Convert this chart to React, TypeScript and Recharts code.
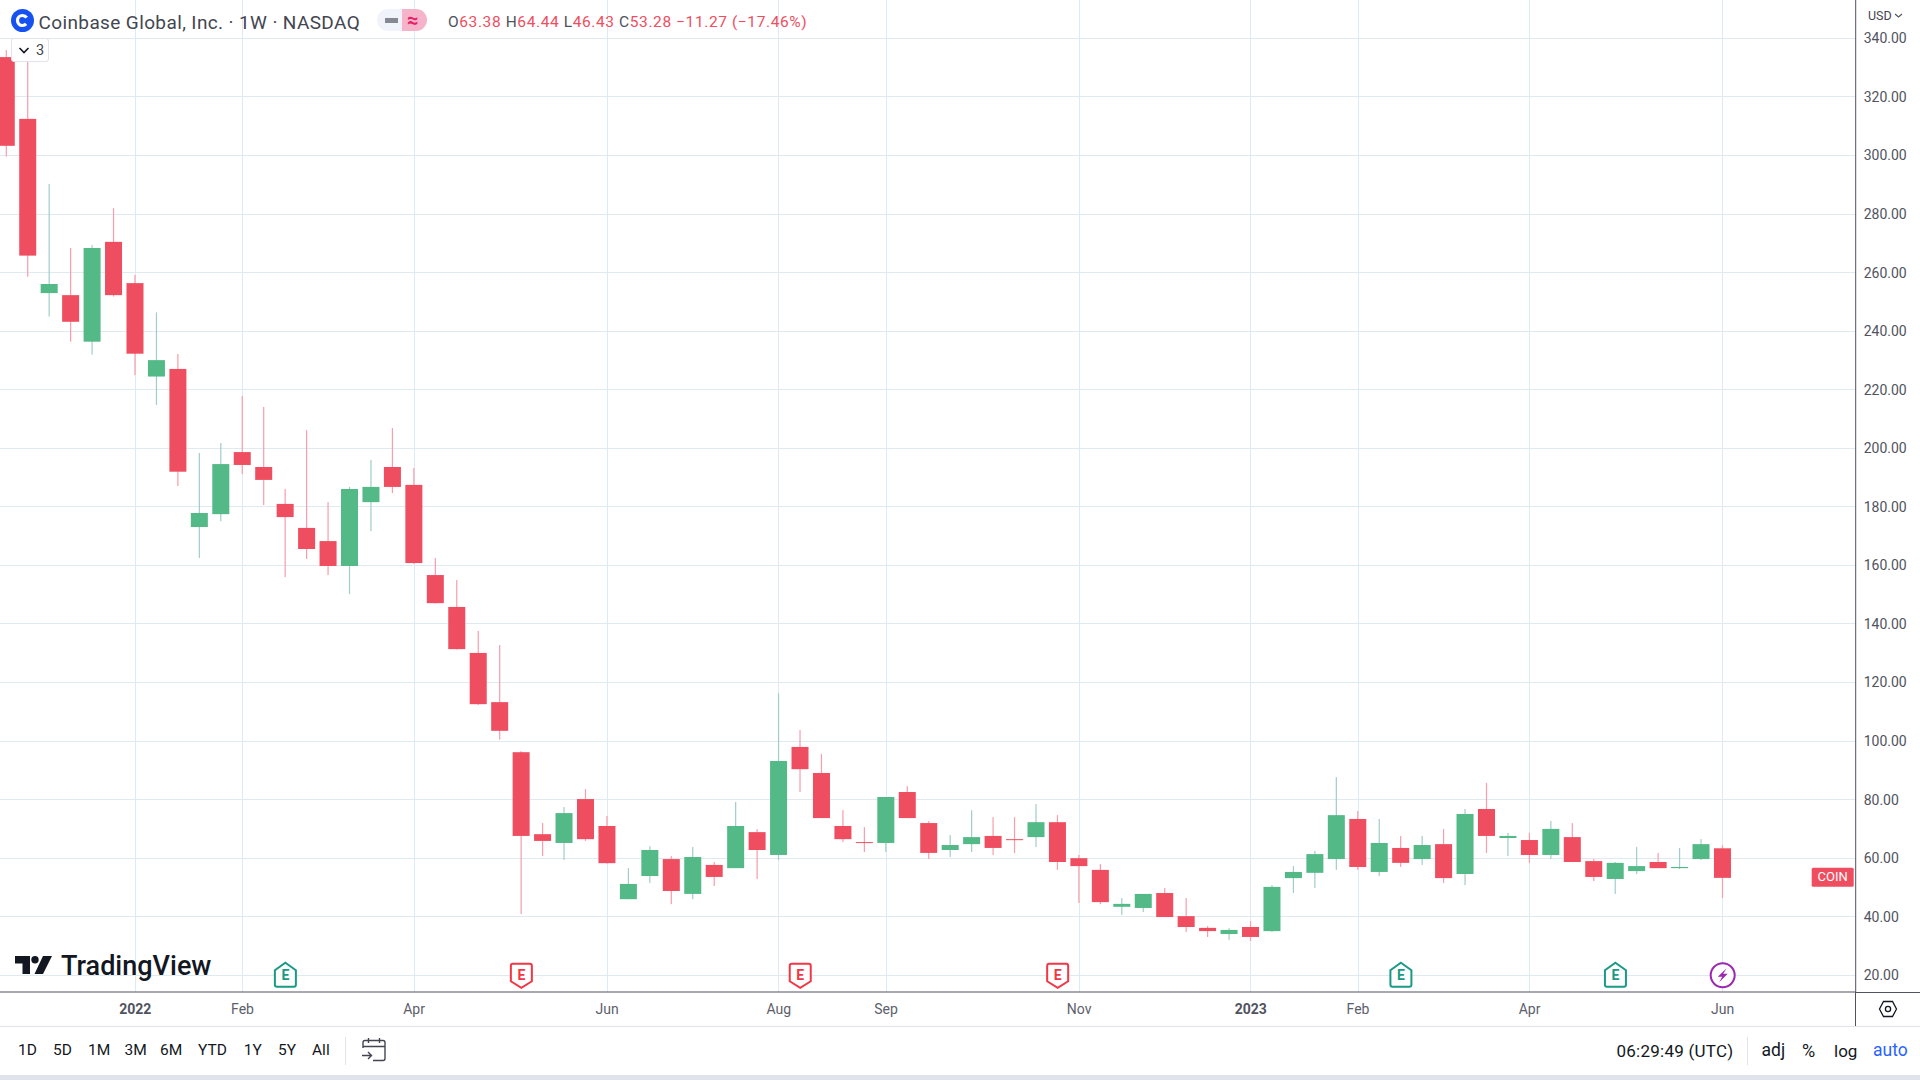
import React from 'react';
import { ComposedChart, Bar, XAxis, YAxis, CartesianGrid, ReferenceDot } from 'recharts';

// weekly candles
const opens = [333.6, 312.5, 253, 252.3, 236.4, 270.5, 256.4, 224.5, 227.1, 173.1, 177.5, 198.7, 193.6, 181, 172.8, 168.3, 159.8, 181.6, 193.6, 187.5, 156.7, 145.8, 130.1, 113.3, 96.2, 68.2, 65.2, 80.2, 71, 46, 53.9, 59.7, 47.8, 57.7, 56.6, 68.9, 61.1, 98, 89.1, 71, 65.5, 65.2, 82.6, 72, 62.8, 64.8, 67.6, 66.5, 67.2, 72.3, 60, 56, 43.4, 43, 48.1, 40.2, 36.2, 34.1, 36.5, 35.1, 53.2, 55, 59.7, 73.4, 55.3, 63.5, 59.7, 64.8, 54.6, 76.8, 66.9, 66.2, 61.1, 67.2, 59, 52.9, 55.6, 58.7, 56.6, 59.7, 63.38];
const highs = [336, 336, 290.3, 268.4, 269.4, 282, 259.2, 246.4, 232.2, 198.4, 201.8, 217.8, 214.1, 186.1, 206.2, 181.6, 186.8, 196, 206.9, 193.3, 162.5, 155, 137.6, 132.8, 96.6, 72, 77.5, 83.6, 74.4, 56.6, 64.1, 60.7, 63.8, 58.7, 79.2, 69.9, 116.4, 103.8, 95.6, 76.4, 70.6, 80.9, 84.6, 72.7, 67.9, 76.4, 74, 74, 78.5, 74.7, 61.1, 58, 46.4, 47.8, 49.8, 46.4, 36.8, 36.1, 38.5, 50.8, 57.3, 62.5, 87.7, 76.1, 73.4, 67.6, 67.6, 70, 76.8, 85.7, 68.6, 68.6, 72.7, 72, 59.7, 58.7, 63.8, 61.8, 63.5, 66.5, 64.44];
const lows = [299.6, 258.6, 245, 236.4, 232, 251.8, 225, 214.8, 187.1, 162.5, 175.1, 191.2, 180.6, 156, 162.2, 156.7, 150.2, 171.7, 184.7, 160.5, 147, 131.3, 112.3, 100.5, 40.9, 60.7, 59.4, 65.9, 58.2, 46, 51.5, 44.3, 46, 50.5, 56.6, 52.9, 59.4, 82.6, 73.7, 65.5, 62.1, 62.1, 73.7, 59.7, 60.4, 62.1, 61.1, 61.8, 63.8, 56, 44.7, 44.3, 40.6, 41.6, 39.9, 34.8, 33.1, 32.1, 31.7, 34.8, 48.1, 49.8, 56, 56, 53.9, 57, 57.7, 51.5, 50.8, 61.8, 60.7, 58.4, 59.7, 58.7, 52.2, 47.8, 54.6, 56.6, 56.3, 59.4, 46.43];
const closes = [303.3, 265.8, 256.1, 243.2, 268.4, 252.3, 232.3, 230.1, 192, 177.9, 194.6, 194.3, 189.2, 176.5, 165.6, 159.8, 186.1, 186.8, 186.8, 160.8, 147.1, 131.4, 112.6, 103.5, 67.6, 65.9, 75.4, 66.5, 58.3, 51.2, 62.8, 48.8, 60.4, 53.6, 71, 62.8, 93.2, 90.4, 73.7, 66.5, 65.2, 80.9, 73.7, 61.8, 64.5, 67.2, 63.5, 66.2, 72.3, 58.7, 57.3, 45, 44.4, 47.8, 39.9, 36.5, 35.1, 35.5, 33.1, 50.2, 55.3, 61.4, 74.7, 57, 65.2, 58.4, 64.5, 53.2, 75.1, 67.6, 67.6, 61.1, 70, 58.7, 53.6, 58.4, 57.3, 56.6, 57, 64.8, 53.28];

const priceTicks = [20, 40, 60, 80, 100, 120, 140, 160, 180, 200, 220, 240, 260, 280, 300, 320, 340];
const timeTicks = [6, 11, 19, 28, 36, 41, 50, 58, 63, 71, 80];
const timeLabels = ['2022', 'Feb', 'Apr', 'Jun', 'Aug', 'Sep', 'Nov', '2023', 'Feb', 'Apr', 'Jun'];

const earningsBeat = [13, 65, 75];
const earningsMiss = [24, 37, 49];
const dividendWeek = [80];
const rangeButtons = ['1D', '5D', '1M', '3M', '6M', 'YTD', '1Y', '5Y', 'All'];
const rangeLefts = [18, 53, 88, 124.5, 160, 198, 243.7, 278, 312];

const UP = '#53b987';
const DOWN = '#ee4e5f';
const UP_WICK = '#a0cdc9';
const DOWN_WICK = '#f79dab';
const GRID = '#dfe9f0';
const AXIS = '#50535e';
const FONT = 'Roboto, sans-serif';

const candles = opens.map((open, i) => ({
  idx: i,
  open,
  close: closes[i],
  range: [lows[i], highs[i]],
}));

function Candle(props: any) {
  const { x, y, width, height, payload } = props;
  const [low, high] = payload.range;
  const pxPerUnit = Math.abs(height) / (high - low);
  const top = Math.min(y, y + height);
  const bodyTop = top + (high - Math.max(payload.open, payload.close)) * pxPerUnit;
  const bodyH = Math.max(Math.abs(payload.open - payload.close) * pxPerUnit, 1);
  const up = payload.close >= payload.open;
  return (
    <g>
      <rect x={x + width / 2 - 0.6} y={top} width={1.2} height={Math.abs(height)} fill={up ? UP_WICK : DOWN_WICK} />
      <rect x={x} y={bodyTop} width={width} height={bodyH} fill={up ? UP : DOWN} />
    </g>
  );
}

function TimeTick({ x, y, payload }: any) {
  const label = timeLabels[timeTicks.indexOf(payload.value)];
  const isYear = label.length === 4;
  return (
    <text x={x} y={y + 17} dy={-7} textAnchor="middle" dominantBaseline="middle" fontFamily={FONT} fontSize={14}
      fontWeight={isYear ? 700 : 400} fill={isYear ? '#50535e' : '#5d606b'}>
      {label}
    </text>
  );
}

function BeatMarker({ cx, cy }: any) {
  return (
    <g>
      <path d={`M${cx} ${cy - 12.5}L${cx + 10.5} ${cy - 5}V${cy + 9.5}Q${cx + 10.5} ${cy + 11.5} ${cx + 8.5} ${cy + 11.5}H${cx - 8.5}Q${cx - 10.5} ${cy + 11.5} ${cx - 10.5} ${cy + 9.5}V${cy - 5}Z`}
        fill="#fff" stroke="#1a9a85" strokeWidth={2} />
      <text x={cx} y={cy + 1} textAnchor="middle" dominantBaseline="middle" fontFamily={FONT} fontWeight={700} fontSize={14} fill="#1a9a85">E</text>
    </g>
  );
}

function MissMarker({ cx, cy }: any) {
  return (
    <g>
      <path d={`M${cx - 8.5} ${cy - 11.5}H${cx + 8.5}Q${cx + 10.5} ${cy - 11.5} ${cx + 10.5} ${cy - 9.5}V${cy + 6}L${cx} ${cy + 12.5}L${cx - 10.5} ${cy + 6}V${cy - 9.5}Q${cx - 10.5} ${cy - 11.5} ${cx - 8.5} ${cy - 11.5}Z`}
        fill="#fff" stroke="#f23645" strokeWidth={2} />
      <text x={cx} y={cy + 1} textAnchor="middle" dominantBaseline="middle" fontFamily={FONT} fontWeight={700} fontSize={14} fill="#f23645">E</text>
    </g>
  );
}

function BoltMarker({ cx, cy }: any) {
  return (
    <g>
      <circle cx={cx} cy={cy} r={12} fill="#fff" stroke="#9c27b0" strokeWidth={2} />
      <path d={`M${cx + 4} ${cy - 7}L${cx - 5} ${cy + 1.5}H${cx - 0.5}L${cx - 3.5} ${cy + 7}L${cx + 5} ${cy - 1.5}H${cx + 0.5}Z`} fill="#9c27b0" />
    </g>
  );
}

function CoinTag({ cx, cy }: any) {
  return (
    <g>
      <rect x={cx - 44} y={cy - 10} width={42} height={19} rx={1.5} fill={DOWN} />
      <text x={cx - 23} y={cy} textAnchor="middle" dominantBaseline="middle" fontFamily={FONT} fontSize={13} fill="#fff">COIN</text>
    </g>
  );
}

function Label({ left, top, size = 15, color = '#131722', weight = 400, spacing = 0, children }: any) {
  return (
    <div style={{
      position: 'absolute', left, top, transform: 'translateY(-50%)', whiteSpace: 'nowrap',
      fontFamily: FONT, fontSize: size, fontWeight: weight, color, lineHeight: 1, letterSpacing: spacing,
    }}>
      {children}
    </div>
  );
}

function Box({ left, top, width, height, color }: any) {
  return <div style={{ position: 'absolute', left, top, width, height, background: color }} />;
}

export default function App() {
  return (
    <div style={{ position: 'absolute', left: 0, top: 0, width: 1920, height: 1080, overflow: 'hidden', background: '#fff' }}>
      <ComposedChart width={1920} height={1026} data={candles} margin={{ top: 0, right: 0, bottom: 0, left: 0 }}>
        <CartesianGrid stroke={GRID} strokeWidth={1} shapeRendering="crispEdges" syncWithTicks />
        <XAxis type="number" dataKey="idx" domain={[-0.303, 86.2]} ticks={timeTicks} allowDataOverflow interval={0}
          height={34} tick={<TimeTick />} tickLine={false} axisLine={{ stroke: AXIS }} />
        <YAxis orientation="right" domain={[14.3, 353.1]} ticks={priceTicks} allowDataOverflow interval={0} width={64.3}
          tickFormatter={(v: number) => v.toFixed(2)} tick={{ fontFamily: FONT, fontSize: 14, fill: '#50535e' }}
          tickLine={false} tickMargin={2} axisLine={{ stroke: AXIS }} />
        <Bar dataKey="range" barSize={17} shape={<Candle />} isAnimationActive={false} />
        {earningsBeat.map(w => <ReferenceDot key={w} x={w} y={20} shape={BeatMarker} />)}
        {earningsMiss.map(w => <ReferenceDot key={w} x={w} y={20} shape={MissMarker} />)}
        {dividendWeek.map(w => <ReferenceDot key={w} x={w} y={20} shape={BoltMarker} />)}
        <ReferenceDot x={86.2} y={closes[closes.length - 1]} shape={CoinTag} />
      </ComposedChart>

      <Box left={1856} top={992} width={64} height={1} color={AXIS} />
      <Box left={1855} top={992} width={1} height={34} color={AXIS} />
      <Box left={0} top={1026} width={1920} height={1} color="#e0e3eb" />
      <Box left={0} top={1075} width={1920} height={5} color="#e0e3eb" />

      {/* header */}
      <svg style={{ position: 'absolute', left: 10, top: 8 }} width={25} height={25} viewBox="0 0 25 25">
        <circle cx={12.5} cy={12.5} r={11.5} fill="#1652f0" />
        <circle cx={12.5} cy={12.5} r={5} fill="none" stroke="#fff" strokeWidth={3.2} strokeDasharray="24 7.4" strokeDashoffset={-3.7} />
      </svg>
      <Label left={38.5} top={21.5} size={19} spacing={0.38} color="#434651">Coinbase Global, Inc. · 1W · NASDAQ</Label>
      <div style={{ position: 'absolute', left: 377, top: 9, width: 25, height: 22, background: '#f0f3fa', borderRadius: '11px 0 0 11px' }} />
      <div style={{ position: 'absolute', left: 402, top: 9, width: 25, height: 22, background: '#f5b4ca', borderRadius: '0 11px 11px 0' }} />
      <Box left={385} top={18} width={13} height={5} color="#868993" />
      <Label left={407} top={20} size={20} weight={700} color="#e91e63">≈</Label>
      <Label left={448} top={22.5} size={15.5} spacing={0.6} color={DOWN}>
        <span style={{ color: '#50535e' }}>O</span>63.38{' '}
        <span style={{ color: '#50535e' }}>H</span>64.44{' '}
        <span style={{ color: '#50535e' }}>L</span>46.43{' '}
        <span style={{ color: '#50535e' }}>C</span>53.28 −11.27 (−17.46%)
      </Label>
      <div style={{ position: 'absolute', left: 11, top: 38, width: 38, height: 24, boxSizing: 'border-box', background: '#fff', border: '1px solid #e0e3eb', borderRadius: 3 }} />
      <svg style={{ position: 'absolute', left: 18, top: 46 }} width={12} height={9} viewBox="0 0 12 9">
        <path d="M1.5 2L6 6.5L10.5 2" fill="none" stroke="#131722" strokeWidth={1.6} />
      </svg>
      <Label left={36} top={50.5} size={14.5} color="#434651">3</Label>

      {/* price axis currency */}
      <Label left={1868} top={16} size={12.5} color="#434651">USD</Label>
      <svg style={{ position: 'absolute', left: 1894, top: 12 }} width={9} height={7} viewBox="0 0 9 7">
        <path d="M1 2L4.5 5L8 2" fill="none" stroke="#50535e" strokeWidth={1.1} />
      </svg>

      {/* watermark */}
      <svg style={{ position: 'absolute', left: 15, top: 956 }} width={37} height={18} viewBox="0 0 37 18">
        <path d="M0 0H15V18H7.5V7.5H0Z" fill="#131722" />
        <circle cx={20} cy={3.7} r={3.7} fill="#131722" />
        <path d="M28 0H37L28 18H19.5Z" fill="#131722" />
      </svg>
      <Label left={61} top={966} size={27} weight={500} color="#131722">TradingView</Label>

      {/* settings hexagon */}
      <svg style={{ position: 'absolute', left: 1878, top: 999 }} width={20} height={20} viewBox="0 0 20 20">
        <path d="M5.5 2.5H14.5L18.5 10L14.5 17.5H5.5L1.5 10Z" fill="none" stroke="#131722" strokeWidth={1.3} />
        <circle cx={10} cy={10} r={2.6} fill="none" stroke="#131722" strokeWidth={1.3} />
      </svg>

      {/* toolbar */}
      {rangeButtons.map((b, i) => (
        <Label key={b} left={rangeLefts[i]} top={1051} size={15.5}>{b}</Label>
      ))}
      <Box left={345} top={1037} width={1} height={28} color="#e0e3eb" />
      <svg style={{ position: 'absolute', left: 361, top: 1037 }} width={26} height={25} viewBox="0 0 26 25">
        <path d="M2 11V5.5Q2 3.5 4 3.5H22Q24 3.5 24 5.5V21.5Q24 23.5 22 23.5H12M2 9.5H24M7.5 1V6M18.5 1V6M1 18.5H10M7 15L10.5 18.5L7 22" fill="none" stroke="#434651" strokeWidth={1.4} />
      </svg>
      <Label left={1616.5} top={1051} size={17} spacing={0.25}>06:29:49 (UTC)</Label>
      <Box left={1747} top={1037} width={1} height={28} color="#e0e3eb" />
      <Label left={1761.5} top={1051} size={17.5}>adj</Label>
      <Label left={1802} top={1051} size={18}>%</Label>
      <Label left={1834} top={1051} size={17}>log</Label>
      <Label left={1873} top={1051} size={17.5} color="#2962ff">auto</Label>
    </div>
  );
}
